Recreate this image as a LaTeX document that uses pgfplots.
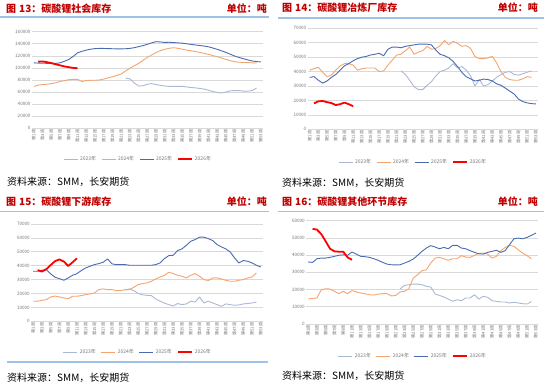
\documentclass[border=0pt]{standalone}
\usepackage{pgfplots}
\pgfplotsset{compat=1.18}
\usepackage{fontspec}
\setmainfont{Noto Sans CJK SC}
\definecolor{c23}{RGB}{169,184,212}
\definecolor{c24}{RGB}{244,164,110}
\definecolor{c25}{RGB}{74,107,176}
\definecolor{c26}{RGB}{255,0,0}
\definecolor{ttl}{RGB}{192,0,0}
\definecolor{bln}{RGB}{157,195,230}
\definecolor{tickc}{RGB}{118,118,118}
\definecolor{gridc}{RGB}{217,217,217}
\pgfplotsset{
 mychart/.style={
  scale only axis, xmin=0.5, xmax=53.5, ymin=0,
  axis line style={draw=none}, major tick length=0pt,
  ymajorgrids, grid style={gridc, line width=0.6pt},
  xtick={1,3,...,53},
  xticklabel={第\pgfmathprintnumber{\tick}周},
  x tick label style={rotate=90, anchor=east, font=\fontsize{4.2}{5}\selectfont, text=tickc, inner sep=1pt},
  y tick label style={font=\fontsize{4.6}{5}\selectfont, text=tickc, /pgf/number format/1000 sep={}, /pgf/number format/fixed, inner sep=1pt},
  scaled y ticks=false,
  /pgf/number format/assume math mode=true,
  legend columns=4,
  legend style={draw=none, fill=none, font=\fontsize{5}{6}\selectfont, text=tickc, anchor=center, /tikz/every even column/.append style={column sep=3pt}},
  legend image code/.code={\draw[#1] (0pt,0pt) -- (14pt,0pt);},
  every axis plot/.append style={line width=0.9pt, mark=none, line join=round},
 },
}
\newcommand{\ttlfont}{\fontsize{10}{12}\selectfont\bfseries}
\begin{document}
\begin{tikzpicture}[x=1pt,y=1pt]
\useasboundingbox (0pt,0pt) rectangle (550pt,386pt);
% ---------- titles ----------
\node[anchor=west, inner sep=0, text=ttl, font=\ttlfont] at (6pt,377.7pt) {图\hspace{3pt}13：碳酸锂社会库存};
\node[anchor=east, inner sep=0, text=ttl, font=\ttlfont] at (267pt,377.7pt) {单位：吨};
\node[anchor=west, inner sep=0, text=ttl, font=\ttlfont] at (282pt,378.5pt) {图\hspace{3pt}14：碳酸锂冶炼厂库存};
\node[anchor=east, inner sep=0, text=ttl, font=\ttlfont] at (538pt,378.5pt) {单位：吨};
\node[anchor=west, inner sep=0, text=ttl, font=\ttlfont] at (6pt,184.5pt) {图\hspace{3pt}15：碳酸锂下游库存};
\node[anchor=east, inner sep=0, text=ttl, font=\ttlfont] at (267pt,184.5pt) {单位：吨};
\node[anchor=west, inner sep=0, text=ttl, font=\ttlfont] at (282pt,184pt) {图\hspace{3pt}16：碳酸锂其他环节库存};
\node[anchor=east, inner sep=0, text=ttl, font=\ttlfont] at (538pt,184pt) {单位：吨};
\draw[bln, line width=1.3pt] (0pt,369pt) -- (269pt,369pt);
\draw[bln, line width=1.3pt] (278pt,368pt) -- (544pt,368pt);
\draw[bln, line width=1.3pt] (0pt,174.7pt) -- (269pt,174.7pt);
\draw[bln, line width=1.3pt] (278pt,174.7pt) -- (544pt,174.7pt);
\draw[bln, line width=1.3pt] (7pt,24pt) -- (268pt,24pt);
% ---------- sources ----------
\node[anchor=west, inner sep=0, font=\fontsize{10}{12}\selectfont] at (7pt,204pt) {资料来源：SMM，长安期货};
\node[anchor=west, inner sep=0, font=\fontsize{10}{12}\selectfont] at (282pt,203pt) {资料来源：SMM，长安期货};
\node[anchor=west, inner sep=0, font=\fontsize{10}{12}\selectfont] at (7pt,8pt) {资料来源：SMM，长安期货};
\node[anchor=west, inner sep=0, font=\fontsize{10}{12}\selectfont] at (282pt,10pt) {资料来源：SMM，长安期货};
% ---------- chart 13 ----------
\begin{axis}[mychart, at={(31.7pt,257.7pt)}, anchor=south west, width=231.3pt, height=96.6pt,
  ymax=160000, ytick={0,20000,...,160000},
  legend style={at={(0.46,-0.318)}}]
\addplot[c23] coordinates {(22,83000) (23,82000) (24,75000) (25,70000) (26,70500) (27,73000) (28,74000) (29,72500) (30,71000) (31,70000) (32,69500) (33,69500) (34,69500) (35,69500) (36,68500) (37,67500) (38,67000) (39,66000) (40,65000) (41,63000) (42,61000) (43,59500) (44,58500) (45,60000) (46,62000) (47,62500) (48,62500) (49,61500) (50,61500) (51,62500) (52,66500)};
\addplot[c24] coordinates {(1,69500) (2,71500) (3,72500) (4,73000) (5,74000) (6,75500) (7,77500) (8,79000) (9,80500) (10,81000) (11,81000) (12,77500) (13,79000) (14,79500) (15,79500) (16,80000) (17,81500) (18,83500) (19,85500) (20,87500) (21,90000) (22,95000) (23,99500) (24,103500) (25,107500) (26,112500) (27,117500) (28,121500) (29,125500) (30,128500) (31,130800) (32,132500) (33,133500) (34,132500) (35,131000) (36,129500) (37,128500) (38,127000) (39,125800) (40,124200) (41,122500) (42,120500) (43,118600) (44,116500) (45,114200) (46,112000) (47,110300) (48,109500) (49,109000) (50,108800) (51,108500) (52,108000)};
\addplot[c25] coordinates {(1,108500) (2,108000) (3,108000) (4,107500) (5,107500) (6,107500) (7,108500) (8,111000) (9,114000) (10,119000) (11,125000) (12,127500) (13,129500) (14,131000) (15,132000) (16,132300) (17,132300) (18,132000) (19,131800) (20,131500) (21,131500) (22,131800) (23,132300) (24,133500) (25,135200) (26,137000) (27,139100) (28,141500) (29,143500) (30,143000) (31,142200) (32,142500) (33,142000) (34,141500) (35,141000) (36,140000) (37,139000) (38,138000) (39,137200) (40,136200) (41,135000) (42,133000) (43,130800) (44,128300) (45,125800) (46,122700) (47,119700) (48,117300) (49,115300) (50,113300) (51,111500) (52,110500) (53,110000)};
\addplot[c26, line width=1.8pt] coordinates {(2,110300) (3,110800) (4,109500) (5,108000) (6,106000) (7,104300) (8,102500) (9,101200) (10,100000) (11,99500)};
\legend{2023年,2024年,2025年,2026年}
\end{axis}
% ---------- chart 14 ----------
\begin{axis}[mychart, at={(307.5pt,256.7pt)}, anchor=south west, width=230.5pt, height=101pt,
  ymax=70000, ytick={0,10000,...,70000},
  legend style={at={(0.458,-0.324)}}]
\addplot[c23] coordinates {(22,40500) (23,38000) (24,34000) (25,29500) (26,27500) (27,27500) (28,30500) (29,33000) (30,37000) (31,40000) (32,41000) (33,42500) (34,45500) (35,42500) (36,43500) (37,41000) (38,37000) (39,30000) (40,34500) (41,30000) (42,31000) (43,33500) (44,36000) (45,38000) (46,39500) (47,40000) (48,38000) (49,37500) (50,38500) (51,39500) (52,40500)};
\addplot[c24] coordinates {(1,41000) (2,42000) (3,43000) (4,39500) (5,36500) (6,37500) (7,41000) (8,44000) (9,45500) (10,45500) (11,44500) (12,41000) (13,42000) (14,42500) (15,42500) (16,42500) (17,40000) (18,40500) (19,44500) (20,48000) (21,51500) (22,52000) (23,54500) (24,57000) (25,52000) (26,53500) (27,54500) (28,57500) (29,55500) (30,56000) (31,58000) (32,61500) (33,58500) (34,61000) (35,59500) (36,57500) (37,58000) (38,56000) (39,50500) (40,49000) (41,49000) (42,49500) (43,50500) (44,46000) (45,40000) (46,36000) (47,34500) (48,34000) (49,34000) (50,35000) (51,36500) (52,36000)};
\addplot[c25] coordinates {(1,36000) (2,36500) (3,34000) (4,32000) (5,33500) (6,36000) (7,38000) (8,41000) (9,44000) (10,45500) (11,47500) (12,49000) (13,50000) (14,50500) (15,51500) (16,52000) (17,52700) (18,51000) (19,55500) (20,57000) (21,57000) (22,56500) (23,57500) (24,58000) (25,58500) (26,59000) (27,59000) (28,59000) (29,58500) (30,55000) (31,52000) (32,51000) (33,49500) (34,47000) (35,43500) (36,39500) (37,36500) (38,35000) (39,33500) (40,34000) (41,34800) (42,34500) (43,33500) (44,31500) (45,30500) (46,28500) (47,26500) (48,24500) (49,21000) (50,19200) (51,18300) (52,17800) (53,17600)};
\addplot[c26, line width=1.8pt] coordinates {(2,18000) (3,19400) (4,19600) (5,18800) (6,18200) (7,16800) (8,17400) (9,18500) (10,17400) (11,16000)};
\legend{2023年,2024年,2025年,2026年}
\end{axis}
% ---------- chart 15 ----------
\begin{axis}[mychart, at={(31pt,64.7pt)}, anchor=south west, width=232pt, height=97.3pt,
  ymax=70000, ytick={0,10000,...,70000},
  legend style={at={(0.461,-0.316)}}]
\addplot[c23] coordinates {(22,22500) (23,23300) (24,22000) (25,20000) (26,19000) (27,18700) (28,18500) (29,16000) (30,14500) (31,13000) (32,12000) (33,11000) (34,12800) (35,12000) (36,12500) (37,14500) (38,13800) (39,17500) (40,13200) (41,14500) (42,13200) (43,12000) (44,10800) (45,12500) (46,12000) (47,11500) (48,11800) (49,12500) (50,12800) (51,13200) (52,13800)};
\addplot[c24] coordinates {(1,14400) (2,14500) (3,15100) (4,15600) (5,17500) (6,18200) (7,17500) (8,16800) (9,16300) (10,18000) (11,18000) (12,18500) (13,19200) (14,19700) (15,20400) (16,22800) (17,23300) (18,22800) (19,22800) (20,22100) (21,22100) (22,22800) (23,22800) (24,24500) (25,26400) (26,27100) (27,27600) (28,28800) (29,30500) (30,31900) (31,33100) (32,35300) (33,34300) (34,33100) (35,32400) (36,31200) (37,33100) (38,34300) (39,32400) (40,30000) (41,29300) (42,31200) (43,31200) (44,30500) (45,29500) (46,28800) (47,28800) (48,29500) (49,30000) (50,31200) (51,31900) (52,34800)};
\addplot[c25] coordinates {(1,36000) (2,36000) (3,36700) (4,37200) (5,34100) (6,31700) (7,30700) (8,29500) (9,31200) (10,33100) (11,34300) (12,36500) (13,38400) (14,39600) (15,40800) (16,41500) (17,42500) (18,44900) (19,41300) (20,40800) (21,40800) (22,40800) (23,40300) (24,40300) (25,40300) (26,40300) (27,40300) (28,40300) (29,40800) (30,42000) (31,45100) (32,47300) (33,47500) (34,50900) (35,52100) (36,54700) (37,57600) (38,58800) (39,60500) (40,60500) (41,59500) (42,58100) (43,55200) (44,53500) (45,52100) (46,49900) (47,45600) (48,42000) (49,43700) (50,43200) (51,42000) (52,40300) (53,39100)};
\addplot[c26, line width=1.8pt] coordinates {(2,36800) (3,35800) (4,37500) (5,40500) (6,43300) (7,44500) (8,43000) (9,39800) (10,42500) (11,45300)};
\legend{2023年,2024年,2025年,2026年}
\end{axis}
% ---------- chart 16 ----------
\begin{axis}[mychart, at={(306pt,62pt)}, anchor=south west, width=232pt, height=103.3pt,
  ymax=60000, ytick={0,10000,...,60000},
  legend style={at={(0.461,-0.31)}}]
\addplot[c23] coordinates {(22,20300) (23,22400) (24,22800) (25,23200) (26,23200) (27,22800) (28,21900) (29,21500) (30,17400) (31,16600) (32,15700) (33,14500) (34,13200) (35,14100) (36,13500) (37,15100) (38,15100) (39,17000) (40,14500) (41,16100) (42,15500) (43,13500) (44,13200) (45,12800) (46,12800) (47,12200) (48,12600) (49,12200) (50,11800) (51,11600) (52,13000)};
\addplot[c24] coordinates {(1,14500) (2,14900) (3,15100) (4,19900) (5,20500) (6,20300) (7,19000) (8,17600) (9,19000) (10,17600) (11,19400) (12,18600) (13,18000) (14,17600) (15,17000) (16,16800) (17,17400) (18,17600) (19,17600) (20,16300) (21,16600) (22,18600) (23,19000) (24,20500) (25,26700) (26,28600) (27,31000) (28,31500) (29,35400) (30,38300) (31,38700) (32,37900) (33,37000) (34,37900) (35,37900) (36,39700) (37,38900) (38,38700) (39,39900) (40,41000) (41,41200) (42,40600) (43,38300) (44,39300) (45,42600) (46,44500) (47,45700) (48,45100) (49,43100) (50,41200) (51,39700) (52,37900)};
\addplot[c25] coordinates {(1,36000) (2,35800) (3,37900) (4,38300) (5,38300) (6,38700) (7,39300) (8,39900) (9,40200) (10,39900) (11,41800) (12,40600) (13,39300) (14,39100) (15,38700) (16,37900) (17,37000) (18,35800) (19,34800) (20,34400) (21,34300) (22,34400) (23,35400) (24,36400) (25,37700) (26,39900) (27,42200) (28,44100) (29,45500) (30,44700) (31,43700) (32,44500) (33,43700) (34,45700) (35,45700) (36,44100) (37,43700) (38,42600) (39,41600) (40,40800) (41,40600) (42,41600) (43,42200) (44,42800) (45,41600) (46,42600) (47,46100) (48,49500) (49,49900) (50,49500) (51,50300) (52,51500) (53,52800)};
\addplot[c26, line width=1.8pt] coordinates {(2,55300) (3,54800) (4,52200) (5,48000) (6,43700) (7,42200) (8,42000) (9,42000) (10,38700) (11,37300)};
\legend{2023年,2024年,2025年,2026年}
\end{axis}
\end{tikzpicture}
\end{document}
